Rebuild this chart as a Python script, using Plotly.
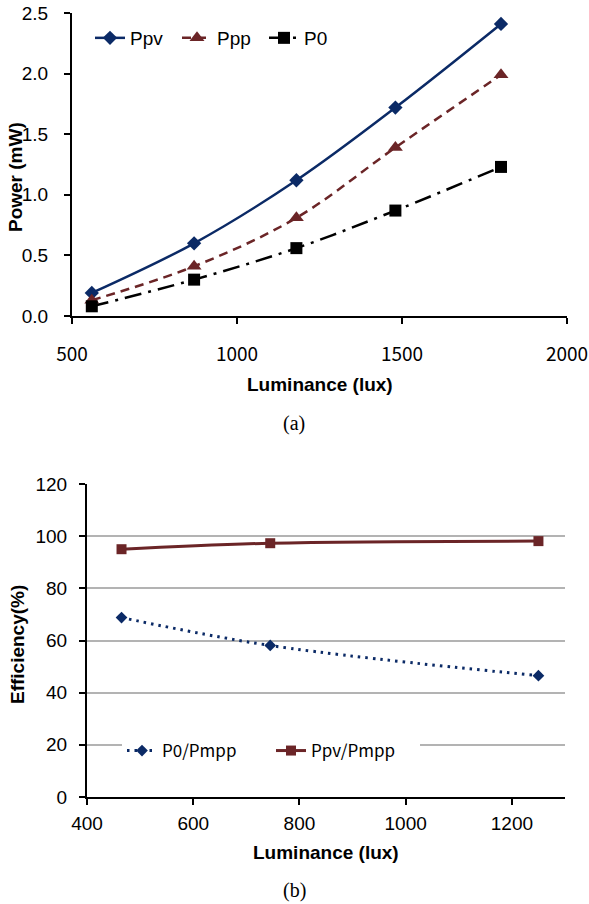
import plotly.graph_objects as go

# ---- data: panel (a) power vs luminance ----
lux_a = [560, 870, 1180, 1480, 1800]
p_pv = [0.19, 0.60, 1.12, 1.72, 2.41]
p_pp = [0.13, 0.41, 0.81, 1.39, 1.99]
p_0 = [0.08, 0.30, 0.56, 0.87, 1.23]

# ---- data: panel (b) efficiency vs luminance ----
lux_b = [465, 745, 1250]
eff_p0_pmpp = [68.8, 58.1, 46.5]
eff_ppv_pmpp = [95.0, 97.3, 98.1]

W, H = 589, 904
NAVY = "#0b2a66"
MAROON = "#6b2527"
ARIAL = "Liberation Sans, Arial, sans-serif"
GOTHIC = "Noto Sans CJK KR, Noto Sans, sans-serif"


def px_x(p):
    return p / W


def px_y(p):
    return 1 - p / H


fig = go.Figure()

# panel (a)
fig.add_trace(go.Scatter(
    x=lux_a, y=p_pv, name="Ppv", mode="lines+markers",
    line=dict(color=NAVY, width=2.5, shape="spline"),
    marker=dict(symbol="diamond", size=11, color=NAVY),
    xaxis="x", yaxis="y", legend="legend"))
fig.add_trace(go.Scatter(
    x=lux_a, y=p_pp, name="Ppp", mode="lines+markers",
    line=dict(color=MAROON, width=2.5, shape="spline", dash="9px,6px"),
    marker=dict(symbol="triangle-up", size=13, color=MAROON),
    xaxis="x", yaxis="y", legend="legend"))
fig.add_trace(go.Scatter(
    x=lux_a, y=p_0, name="P0", mode="lines+markers",
    line=dict(color="black", width=2.5, shape="spline", dash="17px,7px,3px,7px"),
    marker=dict(symbol="square", size=12, color="black"),
    xaxis="x", yaxis="y", legend="legend"))

# panel (b)
fig.add_trace(go.Scatter(
    x=lux_b, y=eff_p0_pmpp, name="P0/Pmpp", mode="lines+markers",
    line=dict(color=NAVY, width=3, shape="spline", dash="2.5px,5px"),
    marker=dict(symbol="diamond", size=9, color=NAVY),
    xaxis="x2", yaxis="y2", legend="legend2"))
fig.add_trace(go.Scatter(
    x=lux_b, y=eff_ppv_pmpp, name="Ppv/Pmpp", mode="lines+markers",
    line=dict(color=MAROON, width=3, shape="spline"),
    marker=dict(symbol="square", size=10, color=MAROON),
    xaxis="x2", yaxis="y2", legend="legend2"))

axis_common = dict(showline=True, linecolor="black", linewidth=2,
                   ticks="outside", tickcolor="black", tickwidth=1.5,
                   ticklen=6, zeroline=False, fixedrange=True,
                   automargin=False)

fig.update_layout(
    width=W, height=H,
    margin=dict(l=0, r=0, t=0, b=0, autoexpand=False),
    paper_bgcolor="white", plot_bgcolor="white",
    showlegend=True,
    xaxis=dict(domain=[px_x(72), px_x(567)], range=[500, 2000],
               tickvals=[500, 1000, 1500, 2000], showgrid=False,
               tickfont=dict(family=GOTHIC, size=19, color="black"),
               ticklabelstandoff=14, anchor="y", **axis_common),
    yaxis=dict(domain=[px_y(316), px_y(13)], range=[0, 2.5],
               tickvals=[0, 0.5, 1.0, 1.5, 2.0, 2.5], tickformat=".1f",
               showgrid=False, ticklabelstandoff=12,
               tickfont=dict(family=ARIAL, size=19, color="black"),
               anchor="x", **axis_common),
    xaxis2=dict(domain=[px_x(87), px_x(565)], range=[400, 1300],
                tickvals=[400, 600, 800, 1000, 1200], showgrid=False,
                tickfont=dict(family=ARIAL, size=19, color="black"),
                ticklabelstandoff=2, anchor="y2", **axis_common),
    yaxis2=dict(domain=[px_y(797), px_y(484)], range=[0, 120],
                tickvals=[0, 20, 40, 60, 80, 100, 120],
                showgrid=True, gridcolor="#b3b3b3", gridwidth=1.5,
                tickfont=dict(family=ARIAL, size=19, color="black"),
                ticklabelstandoff=8, anchor="x2", **axis_common),
    legend=dict(orientation="h", x=px_x(90), y=px_y(38),
                xanchor="left", yanchor="middle",
                bgcolor="rgba(255,255,255,0)", borderwidth=0,
                entrywidth=42, entrywidthmode="pixels",
                font=dict(family=ARIAL, size=19, color="black")),
    legend2=dict(orientation="h", x=px_x(122), y=px_y(751),
                 xanchor="left", yanchor="middle",
                 bgcolor="white", borderwidth=0,
                 entrywidth=104, entrywidthmode="pixels",
                 font=dict(family=GOTHIC, size=17, color="black")),
)

# white band behind the efficiency legend
fig.add_shape(type="rect", xref="paper", yref="paper",
              x0=px_x(94), x1=px_x(433), y0=px_y(762), y1=px_y(738),
              fillcolor="white", line=dict(width=0), layer="below")

title_font = dict(family=ARIAL, size=19, color="black")
caption_font = dict(family="Liberation Serif, Times New Roman, serif", size=20, color="black")

annotations = [
    dict(text="<b>Luminance (lux)</b>", x=px_x(320), y=px_y(384), font=title_font),
    dict(text="<b>Power (mW)</b>", x=px_x(15), y=px_y(177), textangle=-90, font=title_font),
    dict(text="(a)", x=px_x(294), y=px_y(423), font=caption_font),
    dict(text="<b>Luminance (lux)</b>", x=px_x(326), y=px_y(852), font=title_font),
    dict(text="<b>Efficiency(%)</b>", x=px_x(17), y=px_y(645), textangle=-90, font=title_font),
    dict(text="(b)", x=px_x(294), y=px_y(890), font=caption_font),
]
for a in annotations:
    fig.add_annotation(xref="paper", yref="paper", showarrow=False,
                       xanchor="center", yanchor="middle", **a)

fig.write_html("out.html")
